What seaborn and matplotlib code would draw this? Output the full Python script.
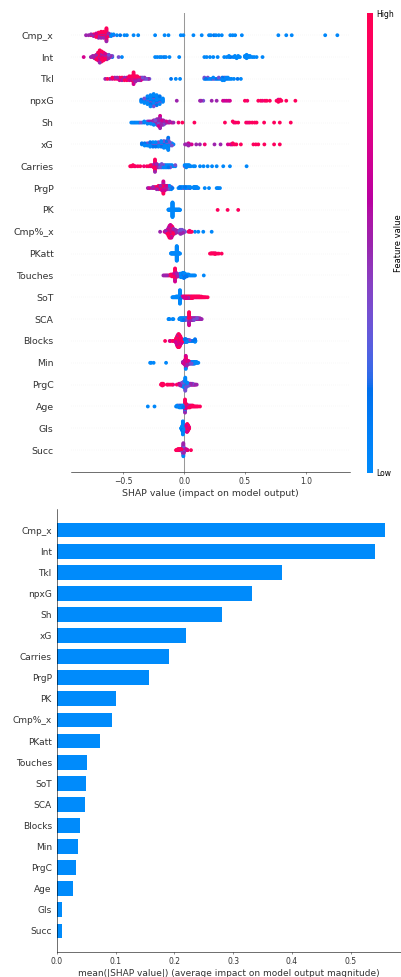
import numpy as np
import pandas as pd
import matplotlib
matplotlib.use("Agg")
import matplotlib.pyplot as plt
from matplotlib.colors import LinearSegmentedColormap, Normalize
from matplotlib.cm import ScalarMappable
import seaborn as sns

# Feature order (most important first) and mean |SHAP| per feature
features = ["Cmp_x", "Int", "Tkl", "npxG", "Sh", "xG", "Carries", "PrgP", "PK", "Cmp%_x",
            "PKatt", "Touches", "SoT", "SCA", "Blocks", "Min", "PrgC", "Age", "Gls", "Succ"]
mean_abs_shap = [0.558, 0.541, 0.384, 0.332, 0.281, 0.220, 0.190, 0.156, 0.101, 0.094,
                 0.074, 0.051, 0.049, 0.0475, 0.0395, 0.035, 0.032, 0.0266, 0.009, 0.008]

# Samples per feature as (SHAP value, normalised feature value, number of samples)
cmp_x_pts = [(-.806,.5,1),(-.785,.5,1),(-.765,.95,1),(-.765,.5,1),(-.744,.95,2),(-.744,.5,1),
    (-.723,.95,3),(-.723,.5,1),(-.723,.7,1),(-.703,.95,4),(-.703,.5,2),(-.703,.7,1),
    (-.682,.95,4),(-.682,.5,3),(-.682,.7,1),(-.662,.95,5),(-.662,.5,2),(-.662,.7,1),
    (-.638,.95,11),(-.638,.7,3),(-.638,.5,2),(-.62,.95,2),(-.62,.5,1),(-.62,.15,1),
    (-.60,.03,2),(-.60,.35,1),(-.58,.03,1),(-.58,.35,1),
    (-.552,.03,1),(-.525,.15,1),(-.49,.03,1),(-.47,.03,1),(-.415,.03,1),(-.377,.03,1),(-.238,.03,1),
    (-.16,.03,1),(-.128,.03,1),(-.027,.03,1),(-.006,.03,1),(.077,.03,1),(.145,.03,1),(.205,.03,1),
    (.22,.03,1),(.245,.15,1),(.262,.03,1),(.285,.03,1),(.31,.03,1),(.38,.03,1),(.40,.03,1),(.42,.03,1),
    (.475,.03,1),(.775,.03,1),(.84,.03,1),(.885,.03,1),(1.16,.03,1),(1.26,.03,1)]

int_pts = [(-.825,.7,1),(-.766,.5,1),(-.751,.95,1),(-.751,.5,1),(-.737,.95,2),(-.737,.5,1),
    (-.722,.95,3),(-.722,.5,2),(-.707,.95,5),(-.707,.5,2),(-.707,.7,1),
    (-.693,.95,7),(-.693,.5,3),(-.693,.7,2),(-.678,.95,6),(-.678,.5,3),(-.678,.7,1),
    (-.663,.95,5),(-.663,.5,2),(-.663,.7,1),(-.649,.95,3),(-.649,.5,2),(-.649,.7,1),
    (-.634,.95,2),(-.634,.5,2),(-.634,.35,1),(-.619,.5,2),(-.619,.35,2),(-.605,.35,1),(-.605,.5,1),
    (-.59,.35,1),(-.59,.15,1),(-.538,.35,1),(-.511,.03,1),
    (-.238,.03,1),(-.22,.03,1),(-.20,.03,1),(-.185,.03,1),(-.165,.15,1),(-.15,.03,1),(-.12,.03,1),(-.04,.03,1),
    (.167,.03,1),(.186,.03,1),(.213,.03,1),(.24,.03,1),(.276,.03,1),(.33,.03,1),(.35,.03,1),(.369,.03,2),
    (.383,.15,1),(.404,.03,1),(.418,.03,2),(.432,.03,1),(.445,.03,2),(.459,.03,1),(.50,.03,2),(.514,.03,3),
    (.514,.15,1),(.527,.03,2),(.541,.03,2),(.56,.03,1),(.576,.03,1),(.596,.03,1),(.645,.03,1)]

tkl_pts = [(-.648,.5,1),(-.63,.95,1),(-.61,.5,1),(-.59,.95,1),(-.59,.7,1),(-.57,.95,1),(-.57,.5,1),
    (-.55,.95,1),(-.55,.5,1),(-.53,.95,2),(-.53,.7,1),(-.51,.95,2),(-.51,.5,1),(-.49,.95,2),(-.49,.5,1),
    (-.47,.95,2),(-.47,.7,1),(-.45,.95,2),(-.45,.5,1),(-.45,.7,1),(-.432,.95,3),(-.432,.5,1),
    (-.415,.95,7),(-.415,.7,2),(-.415,.5,1),(-.40,.95,3),(-.40,.5,1),(-.40,.7,1),
    (-.385,.95,2),(-.385,.5,1),(-.385,.7,1),(-.37,.95,2),(-.37,.5,1),(-.355,.5,2),(-.355,.7,1),
    (-.34,.5,1),(-.34,.35,1),(-.325,.5,1),(-.325,.35,1),(-.31,.35,1),(-.295,.5,1),(-.285,.35,1),
    (-.107,.15,1),(-.068,.03,1),(-.033,.03,1),
    (.167,.35,1),(.167,.03,1),(.18,.15,1),(.195,.35,1),(.195,.03,1),(.21,.03,1),(.225,.15,1),(.24,.03,1),
    (.24,.35,1),(.255,.03,1),(.27,.15,1),(.285,.03,1),(.285,.35,1),(.30,.03,1),(.315,.03,2),(.315,.15,1),
    (.33,.03,2),(.33,.35,1),(.345,.03,1),(.345,.15,1),(.36,.03,2),(.375,.03,1),(.39,.03,1),(.41,.03,1),
    (.44,.15,1),(.467,.03,1)]

npxg_pts = [(-.352,.03,2),(-.352,.15,1),(-.327,.03,3),(-.327,.35,1),(-.327,.15,1),
    (-.301,.03,5),(-.301,.15,2),(-.301,.35,1),(-.276,.03,6),(-.276,.15,3),(-.276,.35,2),
    (-.25,.03,7),(-.25,.15,3),(-.25,.35,2),(-.225,.03,6),(-.225,.15,2),(-.225,.35,2),
    (-.20,.03,5),(-.20,.15,2),(-.20,.35,1),(-.174,.03,3),(-.174,.15,1),
    (-.06,.5,1),(.131,.5,1),(.14,.5,1),(.158,.35,1),(.227,.5,1),(.268,.5,1),(.32,.7,1),(.335,.5,1),
    (.35,.7,1),(.365,.5,1),(.377,.7,1),(.50,.95,1),(.52,.85,1),(.61,.95,1),(.63,.95,1),(.645,.85,1),
    (.665,.95,1),(.68,.95,1),(.705,.95,1),(.76,.95,1),(.775,.95,2),(.775,.7,1),(.79,.95,2),(.80,.95,1),
    (.84,.95,1),(.915,.95,1)]

sh_pts = [(-.434,.03,1),(-.421,.03,1),(-.408,.15,1),(-.395,.03,1),(-.382,.03,1),(-.369,.15,1),
    (-.356,.35,1),(-.343,.03,1),(-.327,.03,1),(-.327,.15,1),(-.301,.03,2),(-.301,.35,1),
    (-.288,.03,1),(-.288,.5,1),(-.275,.03,2),(-.275,.5,1),(-.262,.03,1),(-.262,.35,1),(-.262,.5,1),
    (-.249,.03,2),(-.249,.5,2),(-.249,.35,1),(-.236,.03,1),(-.236,.5,2),(-.236,.35,1),
    (-.223,.5,3),(-.223,.35,2),(-.223,.03,1),(-.21,.5,4),(-.21,.35,2),(-.21,.7,1),
    (-.197,.5,6),(-.197,.7,3),(-.197,.35,2),(-.197,.95,1),(-.184,.5,3),(-.184,.7,1),(-.184,.35,1),
    (-.171,.5,3),(-.171,.35,1),(-.171,.7,1),(-.158,.5,2),(-.158,.7,1),(-.145,.5,1),(-.145,.7,1),
    (-.132,.5,1),(-.119,.5,1),(-.119,.7,1),(-.10,.7,1),(-.087,.5,1),
    (-.046,.85,1),(-.014,.95,1),(.085,.95,1),
    (.336,.95,1),(.40,.95,1),(.41,.85,1),(.425,.95,1),(.445,.95,1),(.51,.95,1),(.525,.85,1),(.54,.95,1),
    (.56,.95,1),(.58,.95,1),(.596,.95,1),(.658,.95,1),(.74,.95,1),(.787,.95,1),(.877,.95,1)]

xg_pts = [(-.347,.03,1),(-.347,.15,1),(-.324,.03,2),(-.324,.15,1),(-.302,.03,2),(-.302,.35,1),
    (-.279,.03,3),(-.279,.15,1),(-.279,.35,1),(-.256,.03,3),(-.256,.15,1),(-.256,.35,1),
    (-.234,.03,3),(-.234,.15,1),(-.234,.35,1),(-.211,.03,3),(-.211,.15,1),(-.211,.35,1),
    (-.188,.03,4),(-.188,.15,1),(-.188,.35,1),(-.166,.03,4),(-.166,.15,2),(-.166,.35,1),
    (-.143,.03,4),(-.143,.15,1),(-.143,.35,1),(-.143,.5,1),(-.13,.03,7),(-.13,.15,2),(-.13,.35,2),(-.13,.5,1),
    (-.118,.03,3),(-.118,.35,1),(-.10,.03,2),(-.10,.35,1),(-.087,.03,1),
    (.008,.5,1),(.02,.5,1),(.036,.5,2),(.036,.7,1),(.05,.5,1),(.063,.7,1),(.10,.5,1),(.13,.5,1),(.17,.85,1),
    (.25,.5,1),(.30,.5,1),(.36,.7,1),(.38,.95,1),(.39,.7,1),(.40,.95,2),(.415,.95,1),(.43,.95,1),(.467,.95,1),
    (.57,.95,1),(.59,.95,1),(.61,.95,1),(.66,.95,1),(.74,.95,1),(.787,.95,1)]

carries_pts = [(-.443,.95,1),(-.435,.95,1),(-.428,.85,1),(-.42,.95,1),(-.41,.95,1),(-.40,.7,1),(-.38,.95,1),
    (-.36,.95,1),(-.33,.85,1),(-.306,.95,1),(-.29,.95,1),(-.275,.95,1),(-.275,.7,1),(-.262,.95,1),(-.262,.5,1),
    (-.25,.95,2),(-.25,.7,1),(-.239,.95,7),(-.239,.7,3),(-.239,.5,2),(-.225,.95,2),(-.225,.5,1),(-.225,.7,1),
    (-.212,.5,2),(-.212,.35,1),(-.198,.35,1),(-.198,.03,1),(-.198,.5,1),(-.184,.03,2),(-.184,.35,1),(-.184,.5,1),
    (-.17,.03,2),(-.17,.35,1),(-.156,.03,2),(-.156,.15,1),(-.142,.03,2),(-.142,.35,1),(-.128,.03,1),
    (-.128,.35,1),(-.128,.15,1),(-.114,.03,2),(-.114,.35,1),(-.10,.03,1),(-.10,.15,1),(-.085,.03,1),
    (-.072,.03,1),(-.072,.35,1),
    (.005,.03,1),(.005,.35,1),(.018,.03,2),(.018,.15,1),(.03,.03,1),(.03,.35,1),(.042,.03,2),(.055,.03,1),
    (.077,.03,1),(.09,.03,1),(.131,.03,1),(.16,.03,1),(.194,.03,1),(.23,.03,1),(.268,.03,1),(.322,.03,1),
    (.377,.03,1),(.514,.03,1)]

prgp_pts = [(-.298,.5,1),(-.285,.7,1),(-.27,.35,1),(-.255,.5,1),(-.255,.7,1),(-.24,.5,1),(-.24,.95,1),
    (-.225,.95,1),(-.225,.5,1),(-.225,.7,1),(-.21,.95,2),(-.21,.5,1),(-.21,.7,1),
    (-.195,.95,2),(-.195,.5,1),(-.195,.7,1),(-.182,.95,3),(-.182,.7,1),(-.182,.5,1),
    (-.17,.95,6),(-.17,.7,3),(-.17,.5,3),(-.158,.95,2),(-.158,.7,1),(-.158,.5,2),
    (-.147,.5,2),(-.147,.7,1),(-.147,.35,1),(-.135,.5,2),(-.135,.35,1),(-.135,.15,1),
    (-.12,.35,1),(-.12,.03,2),(-.12,.5,1),(-.105,.03,2),(-.105,.35,1),(-.095,.15,1),
    (-.046,.03,1),(-.035,.03,1),(-.035,.15,1),(-.02,.03,2),(-.005,.03,1),(-.005,.35,1),(.008,.15,1),
    (.008,.03,1),(.02,.03,2),(.035,.03,1),(.035,.35,1),(.05,.03,1),(.05,.15,1),(.08,.03,2),(.088,.03,1),
    (.088,.15,1),(.095,.03,2),(.105,.03,1),(.105,.35,1),(.117,.03,1),(.17,.03,1),(.205,.03,1),(.268,.03,1),
    (.28,.15,1),(.295,.03,1)]

pk_pts = [(-.128,.03,2),(-.122,.03,2),(-.116,.03,2),(-.11,.03,2),(-.104,.03,2),(-.10,.03,2),(-.095,.03,40),
    (-.089,.03,2),(-.084,.03,2),(-.078,.03,2),(-.072,.03,2),(-.066,.03,2),(-.06,.03,2),(-.054,.03,2),
    (-.048,.03,2),(-.042,.03,2),(-.037,.03,2),(-.033,.03,1),(.276,.95,1),(.358,.95,1),(.445,.95,1)]

cmp_pct_x_pts = [(-.197,.5,1),(-.16,.7,1),(-.152,.95,1),(-.152,.5,1),(-.144,.95,2),(-.144,.7,1),
    (-.136,.95,3),(-.136,.5,1),(-.136,.7,1),(-.128,.95,5),(-.128,.7,2),(-.128,.5,2),
    (-.12,.95,7),(-.12,.7,3),(-.12,.5,3),(-.112,.95,8),(-.112,.7,3),(-.112,.5,3),
    (-.104,.95,7),(-.104,.7,3),(-.104,.5,3),(-.096,.95,6),(-.096,.7,2),(-.096,.5,2),
    (-.088,.95,3),(-.088,.7,1),(-.088,.5,2),(-.08,.95,2),(-.08,.5,2),(-.08,.7,1),
    (-.072,.95,2),(-.072,.5,1),(-.072,.7,1),(-.064,.5,2),(-.064,.95,1),(-.056,.5,1),(-.056,.7,1),(-.048,.5,1),
    (-.04,.35,1),(-.04,.5,1),(-.032,.35,2),(-.032,.5,2),(-.032,.03,1),(-.024,.35,2),(-.024,.5,2),(-.024,.03,1),
    (-.016,.35,2),(-.016,.5,1),(-.016,.15,1),(-.008,.35,2),(-.008,.5,1),(0.0,.5,1),(0.0,.35,1),(.008,.35,1),
    (.036,.95,1),(.045,.95,1),(.045,.85,1),(.055,.95,1),(.063,.95,1),(.09,.03,1),(.117,.03,1),(.158,.03,1),
    (.227,.03,1)]

pkatt_pts = [(-.107,.03,2),(-.101,.03,2),(-.095,.03,2),(-.089,.03,2),(-.083,.03,2),(-.077,.03,2),
    (-.071,.03,2),(-.066,.03,2),(-.06,.03,40),(-.054,.03,2),(-.049,.03,2),(-.044,.03,2),(-.039,.03,2),
    (-.033,.03,1),(.213,.95,1),(.225,.95,2),(.24,.95,2),(.255,.95,2),(.255,.85,1),(.27,.95,1),(.285,.95,1),
    (.309,.95,1)]

touches_pts = [(-.17,.5,1),(-.16,.5,1),(-.15,.7,1),(-.14,.5,1),(-.13,.95,1),(-.12,.7,1),(-.11,.95,1),
    (-.11,.5,1),(-.10,.95,1),(-.10,.7,1),(-.10,.5,1),(-.09,.95,2),(-.09,.7,1),(-.082,.95,2),(-.082,.7,1),
    (-.082,.5,1),(-.074,.95,10),(-.074,.7,4),(-.074,.5,2),(-.066,.95,3),(-.066,.7,2),(-.066,.5,1),
    (-.058,.7,2),(-.058,.5,1),(-.058,.95,1),(-.05,.5,2),(-.05,.35,1),(-.042,.35,1),(-.042,.03,1),(-.042,.5,1),
    (-.034,.03,2),(-.034,.35,1),(-.034,.15,1),(-.026,.03,3),(-.026,.35,1),(-.026,.15,1),
    (-.018,.03,3),(-.018,.35,1),(-.018,.15,1),(-.01,.03,4),(-.01,.35,1),(-.01,.15,1),
    (-.002,.03,4),(-.002,.35,1),(-.002,.15,2),(.006,.03,3),(.006,.35,1),(.006,.15,1),
    (.014,.03,2),(.014,.15,1),(.022,.03,2),(.022,.15,1),(.03,.03,1),(.03,.35,1),(.038,.03,1),(.038,.15,1),
    (.05,.03,1),(.06,.03,1),(.07,.15,1),(.08,.03,1),(.09,.03,1),(.162,.03,1)]

sot_pts = [(-.096,.03,1),(-.09,.03,1),(-.084,.03,1),(-.078,.03,1),(-.072,.03,1),(-.066,.03,2),(-.06,.03,2),
    (-.054,.03,2),(-.048,.03,2),(-.042,.03,2),(-.034,.03,20),(-.026,.03,2),(-.026,.15,1),(-.02,.03,1),
    (-.02,.15,1),(-.014,.7,1),(-.014,.5,1),(-.008,.7,2),(-.002,.7,1),(-.002,.95,1),(.004,.7,1),(.004,.95,1),
    (.004,.5,1),(.01,.7,2),(.01,.95,1),(.016,.7,1),(.016,.95,1),(.016,.5,1),(.022,.7,1),(.022,.95,2),
    (.028,.95,2),(.028,.7,1),(.034,.95,1),(.034,.7,1),(.034,.5,1),(.04,.95,2),(.04,.7,1),(.046,.95,2),
    (.046,.7,1),(.052,.95,2),(.052,.7,1),(.058,.95,2),(.058,.5,1),(.064,.95,2),(.064,.7,1),(.07,.95,2),
    (.07,.7,1),(.076,.95,2),(.082,.95,1),(.082,.7,1),(.088,.95,2),(.094,.95,1),(.094,.7,1),(.10,.95,2),
    (.106,.95,1),(.106,.7,1),(.112,.95,2),(.118,.95,2),(.124,.95,1),(.124,.7,1),(.13,.95,2),(.136,.95,1),
    (.142,.95,2),(.148,.95,1),(.155,.95,1),(.162,.95,1),(.17,.95,1),(.18,.95,1),(.194,.95,1)]

sca_pts = [(-.128,.03,1),(-.124,.03,1),(-.12,.15,1),(-.095,.03,1),(-.088,.03,1),
    (-.04,.03,1),(-.034,.03,1),(-.034,.15,1),(-.028,.03,2),(-.022,.03,2),(-.022,.35,1),(-.016,.03,2),
    (-.016,.15,1),(-.01,.03,2),(-.01,.35,1),(-.004,.03,2),(-.004,.15,1),(.002,.03,2),(.002,.35,1),
    (.008,.03,1),(.008,.15,1),(.008,.5,1),(.014,.03,1),(.014,.35,1),(.014,.5,1),(.02,.5,1),(.02,.03,1),
    (.026,.5,1),(.026,.35,1),(.032,.7,1),(.032,.5,1),(.036,.95,1),(.036,.7,1),
    (.041,.95,8),(.041,.7,4),(.041,.5,4),(.046,.95,2),(.046,.7,1),(.046,.5,1),(.052,.5,2),(.052,.7,1),
    (.058,.5,2),(.058,.35,1),(.064,.5,2),(.064,.7,1),(.07,.5,2),(.07,.35,1),(.076,.5,2),(.076,.7,1),
    (.082,.5,2),(.082,.35,1),(.088,.5,2),(.094,.5,1),(.094,.7,1),(.10,.5,2),(.106,.5,1),(.106,.35,1),
    (.112,.5,1),(.112,.7,1),(.118,.5,2),(.124,.5,1),(.13,.5,1),(.13,.7,1),(.136,.5,1),(.145,.5,1)]

blocks_pts = [(-.156,.95,1),(-.118,.7,1),(-.112,.95,1),(-.095,.95,1),(-.087,.7,1),(-.075,.95,1),
    (-.07,.95,2),(-.07,.7,1),(-.065,.95,4),(-.065,.7,1),(-.065,.5,1),(-.06,.95,6),(-.06,.7,2),(-.06,.5,1),
    (-.055,.95,8),(-.055,.7,3),(-.055,.5,2),(-.05,.95,9),(-.05,.7,4),(-.05,.5,2),(-.045,.95,10),
    (-.045,.7,4),(-.045,.5,2),(-.04,.95,9),(-.04,.7,4),(-.04,.5,2),(-.035,.95,8),(-.035,.7,3),(-.035,.5,2),
    (-.03,.95,6),(-.03,.7,2),(-.03,.5,2),(-.025,.95,4),(-.025,.7,2),(-.025,.5,1),(-.02,.95,3),(-.02,.7,1),
    (-.02,.5,1),(-.015,.95,2),(-.015,.7,1),(-.01,.95,1),(-.01,.5,1),
    (-.005,.03,1),(-.005,.35,1),(0.0,.03,2),(0.0,.35,1),(.005,.03,3),(.005,.15,1),(.01,.03,3),(.01,.35,1),
    (.015,.03,3),(.015,.15,1),(.02,.03,2),(.02,.35,1),(.025,.03,2),(.025,.15,1),(.03,.03,2),(.035,.03,1),
    (.035,.15,1),(.04,.03,1),(.045,.03,1),(.045,.35,1),(.052,.03,1),(.06,.03,1),(.07,.15,1),(.08,.03,1),
    (.09,.03,3),(.09,.15,1),(.094,.03,1)]

min_pts = [(-.279,.03,1),(-.27,.03,1),(-.25,.03,1),(-.148,.03,1),
    (-.01,.5,1),(-.01,.7,1),(-.002,.5,1),(-.002,.95,1),(-.002,.7,1),(.006,.95,2),(.006,.7,2),(.006,.5,2),
    (.014,.95,6),(.014,.7,4),(.014,.5,4),(.014,.03,1),(.014,.35,1),(.022,.95,3),(.022,.7,2),(.022,.5,2),
    (.03,.95,2),(.03,.7,2),(.03,.5,1),(.038,.5,2),(.038,.7,1),(.038,.95,1),(.046,.5,2),(.046,.35,1),
    (.054,.35,1),(.054,.5,1),(.054,.03,1),(.062,.03,2),(.062,.35,1),(.07,.03,2),(.07,.15,1),(.078,.03,2),
    (.078,.35,1),(.086,.03,2),(.086,.15,1),(.094,.03,2),(.102,.03,1),(.102,.15,1),(.11,.03,1),(.117,.03,1)]

prgc_pts = [(-.19,.95,1),(-.184,.95,2),(-.178,.95,2),(-.178,.85,1),(-.172,.95,2),(-.166,.95,1),(-.14,.95,1),
    (-.13,.85,1),(-.115,.95,1),(-.10,.95,1),(-.09,.7,1),(-.06,.95,1),
    (-.042,.5,1),(-.042,.7,1),(-.036,.5,1),(-.036,.35,1),(-.03,.35,1),(-.03,.03,1),(-.03,.5,1),(-.024,.03,2),
    (-.024,.35,1),(-.018,.03,2),(-.018,.35,1),(-.018,.5,1),(-.012,.03,3),(-.012,.35,1),(-.012,.5,1),
    (-.006,.03,3),(-.006,.35,2),(-.006,.5,1),(0.0,.03,4),(0.0,.35,2),(0.0,.5,1),(.006,.03,4),(.006,.35,2),
    (.006,.5,2),(.01,.03,8),(.01,.35,4),(.01,.5,3),(.01,.15,1),(.016,.03,4),(.016,.35,2),(.016,.5,1),
    (.022,.03,3),(.022,.35,1),(.022,.5,1),(.028,.03,2),(.028,.35,1),(.028,.5,1),(.034,.03,2),(.034,.5,1),
    (.04,.5,2),(.04,.35,1),(.046,.5,1),(.046,.7,1),(.052,.5,1),(.052,.03,1),(.058,.5,1),(.058,.7,1),
    (.064,.5,1),(.07,.35,1),(.07,.5,1),(.076,.7,1),(.082,.5,1),(.088,.7,1),(.094,.5,1),(.104,.5,1)]

age_pts = [(-.298,.03,1),(-.243,.03,1),(-.066,.03,1),(-.058,.03,1),(-.058,.15,1),(-.05,.03,1),(-.05,.35,1),
    (-.04,.03,2),(-.04,.15,1),(-.032,.03,2),(-.032,.35,1),(-.024,.03,2),(-.024,.15,1),(-.016,.03,2),
    (-.016,.35,1),(-.008,.03,2),(-.008,.15,1),(0.0,.03,1),(0.0,.35,1),(0.0,.7,1),
    (.008,.95,8),(.008,.7,4),(.008,.5,3),(.008,.03,1),(.016,.95,3),(.016,.7,2),(.016,.5,1),(.024,.95,2),
    (.024,.7,1),(.024,.5,1),(.032,.95,2),(.032,.7,1),(.04,.95,2),(.04,.7,1),(.048,.95,2),(.048,.7,1),
    (.056,.95,1),(.056,.7,1),(.064,.95,2),(.072,.95,1),(.072,.7,1),(.08,.95,1),(.088,.95,1),(.096,.85,1),
    (.105,.95,1),(.115,.95,1),(.131,.95,1)]

gls_pts = [(-.025,.03,1),(-.022,.03,1),(-.019,.03,2),(-.016,.03,4),(-.016,.15,1),(-.013,.03,6),(-.013,.15,1),
    (-.01,.03,14),(-.01,.35,1),(-.01,.15,1),(-.007,.03,6),(-.007,.15,1),(-.004,.03,4),(-.004,.15,1),
    (-.001,.03,2),(-.001,.35,1),(.014,.7,2),(.014,.95,1),(.018,.95,4),(.018,.7,2),(.022,.95,6),(.022,.7,3),
    (.026,.95,7),(.026,.7,3),(.03,.95,6),(.03,.7,2),(.034,.95,4),(.034,.7,2),(.038,.95,3),(.038,.7,1),
    (.042,.95,2)]

succ_pts = [(-.066,.95,1),(-.062,.95,1),(-.058,.7,1),(-.055,.95,1),(-.052,.95,1),(-.052,.7,1),(-.048,.95,2),
    (-.044,.95,1),(-.044,.7,1),(-.04,.95,2),(-.036,.95,1),(-.036,.7,1),(-.032,.95,1),(-.032,.5,1),
    (-.028,.95,2),(-.024,.7,1),(-.024,.95,1),(-.02,.5,1),(-.02,.95,1),
    (-.016,.5,2),(-.016,.35,1),(-.012,.5,3),(-.012,.35,2),(-.009,.5,4),(-.009,.35,2),(-.009,.15,1),
    (-.006,.5,8),(-.006,.35,5),(-.006,.03,2),(-.006,.15,1),(-.003,.5,4),(-.003,.35,2),(-.003,.15,1),
    (0.0,.5,3),(0.0,.35,1),(0.0,.15,1),(.003,.5,2),(.003,.7,1),(.006,.7,1),(.006,.5,1),(.009,.95,1),
    (.009,.5,1),(.012,.95,1),(.012,.7,1),(.016,.95,1),(.02,.95,1),(.02,.7,1),(.025,.95,1),(.03,.5,1),
    (.057,.95,1)]

feature_points = [cmp_x_pts, int_pts, tkl_pts, npxg_pts, sh_pts, xg_pts, carries_pts, prgp_pts, pk_pts,
                  cmp_pct_x_pts, pkatt_pts, touches_pts, sot_pts, sca_pts, blocks_pts, min_pts, prgc_pts,
                  age_pts, gls_pts, succ_pts]


def lch_to_rgb(l, c, h):
    """CIE LCh -> sRGB (D65), clipped to the displayable range."""
    a, b = c * np.cos(h), c * np.sin(h)
    fy = (l + 16.0) / 116.0
    fx, fz = fy + a / 500.0, fy - b / 200.0
    finv = lambda t: t ** 3 if t > 0.2068966 else (t - 16.0 / 116.0) / 7.787
    xyz = np.array([finv(fx) * 0.95047, finv(fy), finv(fz) * 1.08883])
    m = np.array([[3.24048134, -1.53715152, -0.49853633],
                  [-0.96925495, 1.87599, 0.04155593],
                  [0.05564664, -0.20404134, 1.05731107]])
    lin = np.clip(m @ xyz, 0, None)
    rgb = np.where(lin > 0.0031308, 1.055 * lin ** (1 / 2.4) - 0.055, 12.92 * lin)
    return np.clip(rgb, 0, 1)


# blue -> purple -> red diverging map interpolated in LCh space
nsteps = 100
l_vals = list(np.linspace(54.0, 40.0, nsteps // 2)) + list(np.linspace(40.0, 54.0, nsteps // 2))
c_vals = np.linspace(70.0, 90.0, nsteps)
h_vals = np.linspace(4.6588, 0.35470565 + 2 * np.pi, nsteps)
red_blue = LinearSegmentedColormap.from_list(
    "red_blue", [lch_to_rgb(l, c, h) for l, c, h in zip(l_vals, c_vals, h_vals)])


def swarm_offsets(shaps, mix, row_height=0.4, nbins=100):
    """Stack points that fall into the same value bin symmetrically around the row."""
    quant = np.round(nbins * (shaps - shaps.min()) / (shaps.max() - shaps.min() + 1e-8))
    order = np.lexsort((mix, quant))
    ys = np.zeros(len(shaps))
    layer, last_bin = 0, -1
    for ind in order:
        if quant[ind] != last_bin:
            layer = 0
        ys[ind] = np.ceil(layer / 2) * ((layer % 2) * 2 - 1)
        layer += 1
        last_bin = quant[ind]
    ys *= 0.9 * (row_height / np.max(ys + 1))
    return ys


n_feat = len(features)
frames = []
for i, pts in enumerate(feature_points):
    arr = np.array(pts, dtype=float)
    reps = arr[:, 2].astype(int)
    shaps = np.repeat(arr[:, 0], reps)
    fvals = np.repeat(arr[:, 1], reps)
    # deterministic interleaving so colours mix inside each stacked bin
    mix = (np.arange(len(shaps)) * 0.6180339887) % 1.0
    ys = swarm_offsets(shaps, mix)
    row_df = pd.DataFrame({"shap": shaps, "y": (n_feat - 1 - i) + ys, "fval": fvals, "mix": mix})
    frames.append(row_df.sort_values("mix"))
swarm_df = pd.concat(frames, ignore_index=True)

axis_color = "#333333"
fig = plt.figure(figsize=(8.02, 19.54), dpi=50)

# ---- beeswarm summary ----
ax1 = fig.add_axes([0.1771, 0.5169, 0.6958, 0.4694])
ax1.axvline(0, color="#999999", zorder=-1)
for pos in range(n_feat):
    ax1.axhline(pos, color="#cccccc", lw=0.5, dashes=(1, 5), zorder=-1)
sns.scatterplot(data=swarm_df, x="shap", y="y", hue="fval", palette=red_blue, hue_norm=(0, 1),
                s=30, linewidth=0, legend=False, zorder=3, ax=ax1)
ax1.set_ylim(-1, n_feat)
ax1.set_yticks(range(n_feat))
ax1.set_yticklabels(features[::-1], fontsize=13.5)
ax1.xaxis.set_ticks_position("bottom")
ax1.tick_params("y", length=0, pad=25)
ax1.tick_params(color=axis_color, labelcolor=axis_color)
ax1.tick_params("x", labelsize=11)
for side in ("right", "top", "left"):
    ax1.spines[side].set_visible(False)
ax1.set_xlabel("SHAP value (impact on model output)", fontsize=13.5, color=axis_color)
ax1.set_ylabel("")

# colour bar
cax = fig.add_axes([0.916, 0.5162, 0.015, 0.4701])
cb = fig.colorbar(ScalarMappable(norm=Normalize(0, 1), cmap=red_blue), cax=cax, ticks=[0, 1])
cb.set_ticklabels(["Low", "High"])
cb.ax.tick_params(labelsize=11, length=0)
cb.set_label("Feature value", size=12, labelpad=0)
cb.outline.set_visible(False)

# ---- mean |SHAP| bar summary ----
ax2 = fig.add_axes([0.1421, 0.0256, 0.8579, 0.4534])
sns.barplot(x=mean_abs_shap, y=features, orient="h", color="#008bfb", saturation=1,
            width=0.7, ax=ax2)
ax2.set_ylim(n_feat, -1)
ax2.tick_params("y", length=0, pad=7.5, labelsize=13)
ax2.tick_params(color=axis_color, labelcolor=axis_color)
ax2.tick_params("x", labelsize=11)
for side in ("right", "top"):
    ax2.spines[side].set_visible(False)
ax2.set_xlabel("mean(|SHAP value|) (average impact on model output magnitude)", fontsize=13,
               color=axis_color)
ax2.set_ylabel("")

fig.savefig("out.png", dpi=50)
